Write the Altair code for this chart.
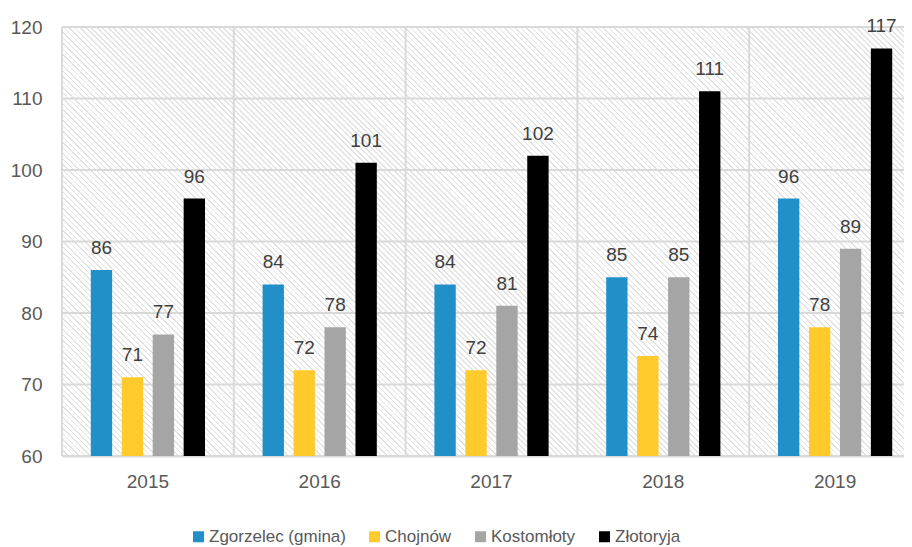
import altair as alt
import pandas as pd

years = ["2015", "2016", "2017", "2018", "2019"]
series = ["Zgorzelec (gmina)", "Chojnów", "Kostomłoty", "Złotoryja"]
colors = ["#2190c9", "#ffca2c", "#a5a5a5", "#000000"]
zgorzelec = [86, 84, 84, 85, 96]
chojnow = [71, 72, 72, 74, 78]
kostomloty = [77, 78, 81, 85, 89]
zlotoryja = [96, 101, 102, 111, 117]
y_ticks = [60, 70, 80, 90, 100, 110, 120]

rows = []
for name, vals in zip(series, [zgorzelec, chojnow, kostomloty, zlotoryja]):
    for y, v in zip(years, vals):
        rows.append({"year": y, "series": name, "value": v})
df = pd.DataFrame(rows)

W, H = 859, 429          # full plot area (extends past the right edge of the page)
VIEW_W = 842             # visible part
FONT = "Liberation Sans, Arial, sans-serif"
GRID = "#d9d9d9"

# hatched background as a striped linear gradient (45-degree stripes)
r = H / W
s = (1 + r) / (1 + r * r)
N = 234
stops = []
for k in range(N):
    a = k / N
    b = (k + 0.3) / N
    c = (k + 1) / N
    stops += [
        {"offset": a, "color": "#e3e3e3"},
        {"offset": b, "color": "#e3e3e3"},
        {"offset": b, "color": "#ffffff"},
        {"offset": c, "color": "#ffffff"},
    ]
gradient = {
    "gradient": "linear",
    "x1": 0, "y1": 1, "x2": s, "y2": 1 - r * s,
    "stops": stops,
}

xscale = alt.Scale(domain=years, range=[0, W], paddingInner=0, paddingOuter=0)
yscale = alt.Scale(domain=[60, 120], nice=False, zero=False)

xaxis = alt.Axis(labelAngle=0, labelFont=FONT, labelFontSize=19,
                 labelColor="#595959", labelPadding=16, ticks=False,
                 domainColor=GRID, domainWidth=2, grid=False)
yaxis = alt.Axis(values=y_ticks, labelFont=FONT, labelFontSize=19,
                 labelColor="#595959", labelPadding=20, ticks=False,
                 domain=False, grid=False)

bg = alt.Chart(alt.Data(values=[{}])).mark_rect(fill=gradient).encode(
    x=alt.value(0), x2=alt.value(W), y=alt.value(0), y2=alt.value("height")
)

ygrid = alt.Chart(pd.DataFrame({"value": y_ticks})).mark_rule(
    color=GRID, strokeWidth=2).encode(
    y=alt.Y("value:Q", scale=yscale, title=None, axis=yaxis),
    x=alt.value(0), x2=alt.value(W),
)

xgrid = alt.Chart(pd.DataFrame({"year": years})).mark_rule(
    color=GRID, strokeWidth=2).encode(
    x=alt.X("year:N", sort=years, scale=xscale, bandPosition=0, title=None, axis=xaxis),
    y=alt.value(0), y2=alt.value("height"),
)

base = alt.Chart(df).encode(
    x=alt.X("year:N", sort=years, title=None, scale=xscale, axis=xaxis),
    xOffset=alt.XOffset("series:N", sort=series,
                        scale=alt.Scale(paddingInner=0.31, paddingOuter=0.93)),
)

bars = base.mark_bar().encode(
    y=alt.Y("value:Q", title=None, scale=yscale, axis=yaxis),
    y2=alt.datum(60),
    color=alt.Color("series:N", sort=series,
                    scale=alt.Scale(domain=series, range=colors),
                    legend=alt.Legend(title=None, orient="none", direction="horizontal",
                                      legendX=128, legendY=501, symbolType="square",
                                      symbolSize=121, symbolStrokeWidth=0,
                                      labelFont=FONT, labelFontSize=17,
                                      labelColor="#595959", columnPadding=20,
                                      labelOffset=2)),
)

labels = base.mark_text(baseline="alphabetic", dy=-16, font=FONT, fontSize=19,
                        color="#404040").encode(
    y=alt.Y("value:Q", title=None, scale=yscale, axis=yaxis),
    text=alt.Text("value:Q"),
)

chart = alt.layer(bg, ygrid, xgrid, bars, labels).properties(
    width=VIEW_W, height=H,
    autosize=alt.AutoSizeParams(type="none"),
    padding={"left": 54, "top": 19, "right": 0, "bottom": 91},
).configure_view(stroke=None).configure(background="white")

chart.save("out.html", embed_options={"renderer": "svg", "actions": False})
